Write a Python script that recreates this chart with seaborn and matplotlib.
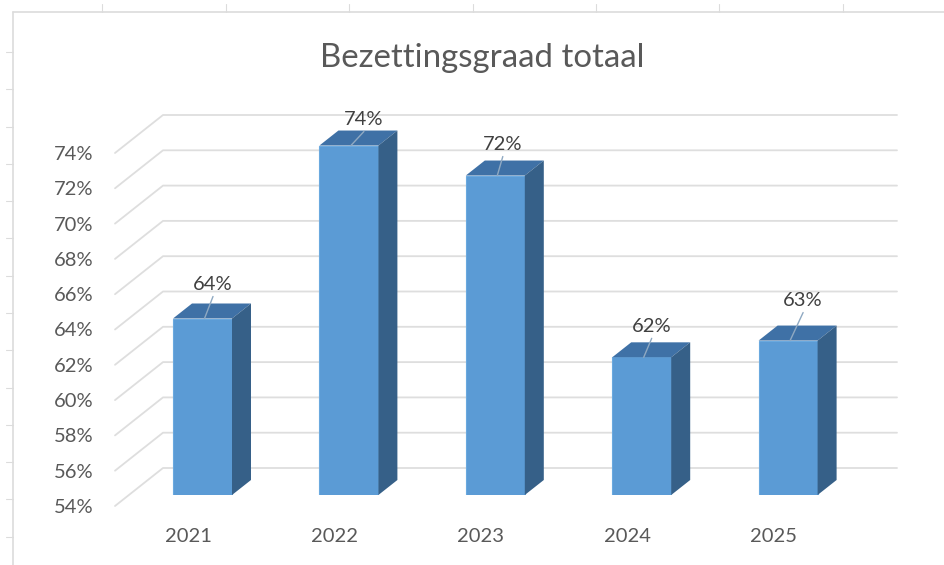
import pandas as pd
import matplotlib
matplotlib.use("Agg")
import matplotlib.pyplot as plt
import matplotlib.transforms as mtrans
from matplotlib.lines import Line2D
from matplotlib.patches import Polygon
import seaborn as sns

# ----------------------------
# Data
# ----------------------------

jaren = ["2021", "2022", "2023", "2024", "2025"]
bezetting = [64.0, 73.8, 72.1, 61.8, 62.75]
y_ticks = [54, 56, 58, 60, 62, 64, 66, 68, 70, 72, 74]
titel = "Bezettingsgraad totaal"

# ----------------------------
# Style
# ----------------------------

W, H = 944, 565
FRONT = "#5B9BD5"
TOP = "#3F71A6"
SIDE = "#366088"
GRID = "#dedede"
TEXT = "#595959"

sns.set_theme(style="white")
plt.rcParams["font.family"] = ["Lato", "DejaVu Sans"]

fig = plt.figure(figsize=(W / 100, H / 100), dpi=100, facecolor="white")

# axes is the plane of the bar fronts, 54% sits at y=495, 17.65 px per %
left, right, bottom, top = 115, 897, 495, 113
ax = fig.add_axes([left / W, 1 - bottom / H, (right - left) / W, (bottom - top) / H])
ax.patch.set_alpha(0)

df = pd.DataFrame({"jaar": jaren, "bezetting": bezetting})
sns.barplot(data=df, x="jaar", y="bezetting", color=FRONT, saturation=1,
            width=0.403, ax=ax, zorder=3, edgecolor="#6aa9df", linewidth=0.8)

ax.set_xlim((left - 202.5) / 146.4, (right - 202.5) / 146.4)
ax.set_ylim(54, 54 + (bottom - top) / 17.65)
ax.set_xlabel("")
ax.set_ylabel("")
sns.despine(ax=ax, left=True, bottom=True)

# ----------------------------
# Axis labels, moved to the front of the 3D floor
# ----------------------------

ax.set_yticks(y_ticks)
ax.set_yticklabels([f"{t}%" for t in y_ticks])
ax.tick_params(axis="y", length=0, pad=15.5, labelsize=14.5, labelcolor=TEXT)
ax.tick_params(axis="x", length=0, pad=24, labelsize=14.5, labelcolor=TEXT)

for lab in ax.get_yticklabels():
    lab.set_transform(lab.get_transform() + mtrans.Affine2D().translate(0, -11))
for lab in ax.get_xticklabels():
    lab.set_transform(lab.get_transform() + mtrans.Affine2D().translate(-14.5, 0))

# ----------------------------
# Gridlines on floor and back wall
# ----------------------------

depth = 48 / (right - left)
trans = ax.get_yaxis_transform()
front_off = trans + mtrans.Affine2D().translate(0, -11)
back_off = trans + mtrans.Affine2D().translate(0, 27)

for t in y_ticks:
    p0 = front_off.transform((0, t))
    p1 = back_off.transform((depth, t))
    p2 = back_off.transform((1, t))
    ax.add_line(Line2D([p0[0], p1[0], p2[0]], [p0[1], p1[1], p2[1]],
                       transform=mtrans.IdentityTransform(), color=GRID,
                       lw=1.3, zorder=1, clip_on=False))

# ----------------------------
# Depth of the bars
# ----------------------------

dx, dy = 19, 15
label_shift = [(10.5, 34), (15, 26), (7.5, 31), (10, 31), (15, 40)]

for bar, waarde, shift in zip(ax.patches, bezetting, label_shift):
    x0, y1 = ax.transData.transform((bar.get_x(), waarde))
    x1, y0 = ax.transData.transform((bar.get_x() + bar.get_width(), 54))

    ax.add_patch(Polygon([(x0, y1), (x1, y1), (x1 + dx, y1 + dy), (x0 + dx, y1 + dy)],
                         transform=mtrans.IdentityTransform(), facecolor=TOP,
                         edgecolor="none", zorder=4, clip_on=False))
    ax.add_patch(Polygon([(x1, y0), (x1 + dx, y0 + dy), (x1 + dx, y1 + dy), (x1, y1)],
                         transform=mtrans.IdentityTransform(), facecolor=SIDE,
                         edgecolor="none", zorder=4, clip_on=False))

    # data label with its small leader line
    cx = (x0 + x1) / 2
    ax.add_line(Line2D([cx + 2, cx + shift[0]], [y1, y1 + shift[1] - 12],
                       transform=mtrans.IdentityTransform(), color="#8fa9c2",
                       lw=1, zorder=5, clip_on=False))
    ax.text(cx + shift[0], y1 + shift[1], f"{round(waarde)}%",
            transform=mtrans.IdentityTransform(), ha="center", va="center",
            fontsize=14.5, color="#404040", zorder=6)

# ----------------------------
# Title and the spreadsheet behind the chart
# ----------------------------

fig.text(482 / W, 1 - 58 / H, titel, ha="center", va="center", fontsize=23.8, color=TEXT)


def sheet_line(xs, ys, lw=1.2):
    fig.add_artist(Line2D([x / W for x in xs], [1 - y / H for y in ys],
                          color="#dcdcdc", lw=lw))


sheet_line([13, 944], [12, 12])
sheet_line([13, 13], [12, 565])
for x in [102, 226, 349, 473, 596, 719, 843]:
    sheet_line([x, x], [4, 12], lw=0.8)
for y in [52, 89, 127, 164, 201, 238, 276, 313, 350, 388, 425, 462, 499, 537]:
    sheet_line([6, 13], [y, y], lw=0.8)

fig.savefig("out.png", dpi=100, facecolor="white")
